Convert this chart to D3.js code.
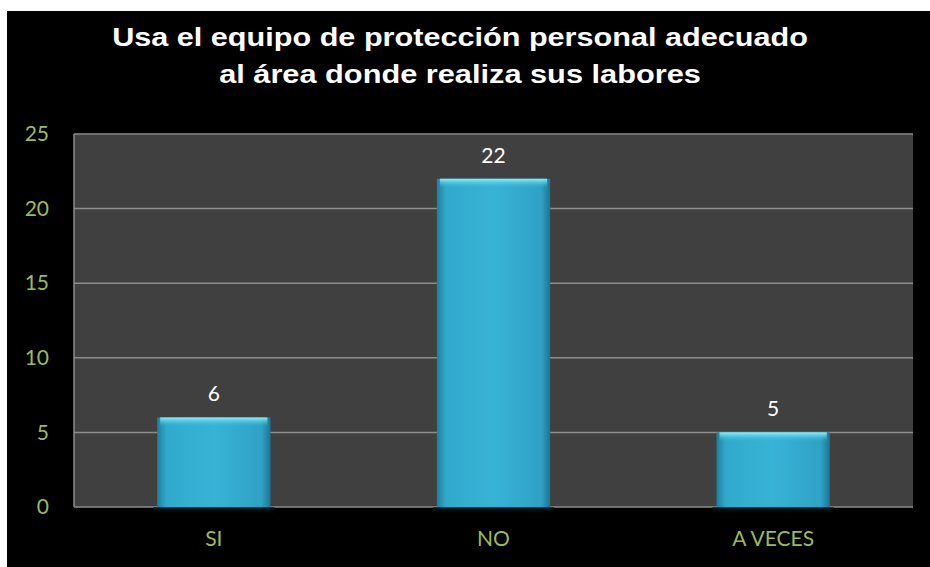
<!DOCTYPE html>
<html>
<head>
<meta charset="utf-8">
<script src="https://cdn.jsdelivr.net/npm/d3@7"></script>
<style>
html, body { margin: 0; padding: 0; background: #ffffff; }
</style>
</head>
<body>
<div id="chart"></div>
<script>
// data
var categories = ["SI", "NO", "A VECES"];
var values = [6, 22, 5];
var yTicks = [0, 5, 10, 15, 20, 25];
var titleLines = ["Usa el equipo de protección personal adecuado", "al área donde realiza sus labores"];
var titleWidths = [696, 482];

var w = 930, h = 567;
var plot = {left: 74, right: 913, top: 134, bottom: 507};

var svg = d3.select("#chart").append("svg")
	.attr("width", w)
	.attr("height", h);

var defs = svg.append("defs");
var grad = defs.append("linearGradient")
	.attr("id", "barH")
	.attr("x1", "0").attr("x2", "1").attr("y1", "0").attr("y2", "0");
grad.append("stop").attr("offset", "0%").attr("stop-color", "#1f7f9e");
grad.append("stop").attr("offset", "8%").attr("stop-color", "#31a9cc");
grad.append("stop").attr("offset", "50%").attr("stop-color", "#37b3d6");
grad.append("stop").attr("offset", "92%").attr("stop-color", "#2fa2c6");
grad.append("stop").attr("offset", "100%").attr("stop-color", "#1c7593");

var topGrad = defs.append("linearGradient")
	.attr("id", "barTop")
	.attr("x1", "0").attr("x2", "0").attr("y1", "0").attr("y2", "1");
topGrad.append("stop").attr("offset", "0%").attr("stop-color", "#8ff0fb");
topGrad.append("stop").attr("offset", "100%").attr("stop-color", "#3bb8da").attr("stop-opacity", 0);

var shadowGrad = defs.append("linearGradient")
	.attr("id", "shadow")
	.attr("x1", "0").attr("x2", "0").attr("y1", "0").attr("y2", "1");
shadowGrad.append("stop").attr("offset", "0%").attr("stop-color", "#0a2a35").attr("stop-opacity", 0.9);
shadowGrad.append("stop").attr("offset", "100%").attr("stop-color", "#000").attr("stop-opacity", 0);

// black panel with thin white margin
svg.append("rect")
	.attr("x", 7).attr("y", 11)
	.attr("width", w - 7).attr("height", h - 11)
	.style("fill", "#000");

// title: glyphs are stretched wide in the picture, so scale each line in x
svg.append("g").selectAll("text")
	.data(titleLines)
	.enter().append("text")
	.attr("x", 0)
	.attr("y", 0)
	.attr("text-anchor", "middle")
	.style("font-family", "Liberation Sans, Arial, sans-serif")
	.style("font-weight", "bold")
	.style("font-size", "26.5px")
	.style("fill", "#fff")
	.text(String)
	.attr("transform", function (d, i) {
		var sx = titleWidths[i] / this.getComputedTextLength();
		return "translate(460," + (46 + i * 37) + ") scale(" + sx + ",1)";
	});

var x = d3.scaleBand()
	.domain(categories)
	.range([plot.left, plot.right])
	.paddingInner(0)
	.paddingOuter(0);

var y = d3.scaleLinear()
	.domain([0, 25])
	.range([plot.bottom, plot.top]);

// plot area
svg.append("rect")
	.attr("x", plot.left).attr("y", plot.top)
	.attr("width", plot.right - plot.left)
	.attr("height", plot.bottom - plot.top)
	.style("fill", "#404040");

// grid
svg.append("g").selectAll("line")
	.data(yTicks)
	.enter().append("line")
	.attr("x1", plot.left).attr("x2", plot.right)
	.attr("y1", function (d) { return y(d); })
	.attr("y2", function (d) { return y(d); })
	.attr("stroke", "#8c8c8c")
	.attr("stroke-width", 1.5);

svg.append("line")
	.attr("x1", plot.left).attr("x2", plot.left)
	.attr("y1", plot.top).attr("y2", plot.bottom)
	.attr("stroke", "#8c8c8c")
	.attr("stroke-width", 1.5);

// y axis labels
var yAxis = d3.axisLeft(y).tickValues(yTicks).tickSize(0).tickPadding(25);
var yg = svg.append("g")
	.attr("transform", "translate(" + plot.left + ",0)")
	.call(yAxis);
yg.select(".domain").remove();
yg.selectAll("text")
	.style("font-family", "Lato, Carlito, Calibri, sans-serif")
	.style("font-size", "21px")
	.style("fill", "#9bbb59");

// x axis labels
var xAxis = d3.axisBottom(x).tickSize(0).tickPadding(24);
var xg = svg.append("g")
	.attr("transform", "translate(0," + plot.bottom + ")")
	.call(xAxis);
xg.select(".domain").remove();
xg.selectAll("text")
	.style("font-family", "Lato, Carlito, Calibri, sans-serif")
	.style("font-size", "21px")
	.style("fill", "#9bbb59");

// bars
var barW = x.bandwidth() * 0.405;
var bars = svg.append("g").selectAll("g")
	.data(values)
	.enter().append("g")
	.attr("transform", function (d, i) {
		return "translate(" + (x(categories[i]) + x.bandwidth() / 2 - barW / 2) + ",0)";
	});

bars.append("rect")
	.attr("x", -4)
	.attr("y", plot.bottom)
	.attr("width", barW + 8)
	.attr("height", 8)
	.style("fill", "url(#shadow)");

bars.append("rect")
	.attr("x", 0)
	.attr("y", function (d) { return y(d); })
	.attr("width", barW)
	.attr("height", function (d) { return plot.bottom - y(d); })
	.style("fill", "url(#barH)");

bars.append("rect")
	.attr("x", 3)
	.attr("y", function (d) { return y(d); })
	.attr("width", barW - 6)
	.attr("height", 9)
	.style("fill", "url(#barTop)");

// value labels
bars.append("text")
	.attr("x", barW / 2)
	.attr("y", function (d) { return y(d) - 16; })
	.attr("text-anchor", "middle")
	.style("font-family", "Lato, Carlito, Calibri, sans-serif")
	.style("font-size", "21px")
	.style("fill", "#fff")
	.text(String);
</script>
</body>
</html>
